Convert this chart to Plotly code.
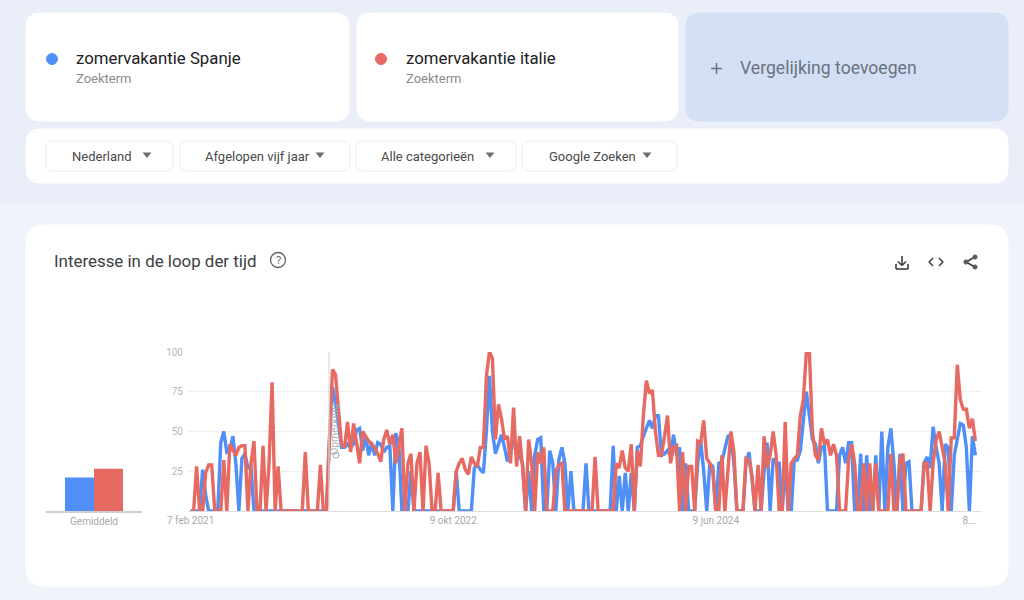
import pandas as pd
import plotly.graph_objects as go

W, H = 1024, 600

terms = ["zomervakantie Spanje", "zomervakantie italie"]
subtitle = "Zoekterm"
filters = ["Nederland", "Afgelopen vijf jaar", "Alle categorieën", "Google Zoeken"]
add_label = "Vergelijking toevoegen"
card_title = "Interesse in de loop der tijd"
avg_label = "Gemiddeld"
avg_spanje = [21]
avg_italie = [26.5]
tick_dates = ["2021-02-07", "2022-10-09", "2024-06-09", "2026-01-18"]
tick_labels = ["7 feb 2021", "9 okt 2022", "9 jun 2024", "8..."]
y_ticks = [25, 50, 75, 100]

spanje = [
    0,0,0,0,26,10,0,0,0,0,
    43,50,37,38,47,30,0,33,36,27,
    28,0,0,0,0,0,0,0,0,0,
    0,0,0,0,0,0,0,0,0,0,
    0,0,0,0,0,0,45,78,68,52,
    40,40,42,40,42,51,52,38,47,35,
    43,35,43,42,37,40,41,0,49,41,
    0,0,0,25,0,0,0,0,0,0,
    0,0,0,0,0,0,0,0,25,0,
    0,0,0,0,27,29,26,24,50,85,
    50,36,42,48,40,31,40,45,35,35,
    30,0,25,0,35,45,46,0,0,38,
    30,0,32,40,30,0,25,0,0,0,
    0,30,0,0,0,0,0,0,0,0,
    41,0,22,0,24,0,24,0,40,41,
    47,52,57,52,60,60,35,36,38,35,
    48,35,40,0,30,0,0,0,30,44,
    25,0,30,28,0,30,31,40,47,48,
    30,0,0,0,30,37,20,0,0,0,
    25,43,0,33,30,30,0,30,0,0,
    32,32,38,55,75,60,45,42,30,40,
    41,0,0,0,0,35,40,30,43,43,
    0,0,36,0,35,0,0,35,0,50,
    0,40,52,30,0,36,0,30,31,0,
    0,0,0,30,34,27,53,40,30,0,
    42,40,0,35,45,55,54,40,0,47,
    35,
]
italie = [
    0,0,28,0,0,24,29,29,0,0,
    0,32,0,42,38,35,40,41,41,0,
    30,44,0,0,41,0,30,81,0,28,
    0,0,0,0,0,0,0,0,37,0,
    0,0,0,29,0,0,44,89,86,65,
    42,40,56,37,55,43,30,50,47,44,
    42,40,36,31,45,51,42,48,30,42,
    52,0,30,36,0,30,37,0,41,30,
    0,0,24,0,0,0,0,0,25,30,
    33,26,23,34,30,28,40,40,85,100,
    96,45,67,58,45,47,30,65,28,47,
    27,0,45,30,0,37,30,40,0,0,
    0,25,29,30,0,0,0,0,0,0,
    0,0,0,0,34,0,0,0,0,0,
    0,30,27,38,27,25,42,0,38,28,
    60,82,74,76,50,35,35,47,60,30,
    40,41,0,37,0,28,28,0,44,43,
    57,33,30,25,0,0,35,0,25,50,
    37,0,0,0,33,32,22,0,29,0,
    47,27,35,50,35,0,0,56,0,30,
    33,35,60,70,100,100,50,35,32,52,
    42,45,35,42,35,0,0,0,32,42,
    30,0,0,30,0,30,0,30,0,0,
    0,0,36,0,0,32,36,0,0,0,
    0,0,0,30,30,0,30,45,50,40,
    30,0,46,46,92,70,64,64,52,58,
    44,
]
dates = pd.date_range("2021-02-07", periods=len(spanje), freq="7D")

BLUE = "#4f8ff7"
RED = "#e66a62"
BG_TOP = "#e9eef8"
BG_LOW = "#f0f3f9"
ADD_BG = "#d3dff5"
FONT = "Roboto"


def px(x):
    return x / W


def py(y):
    return 1 - y / H


def rrect(x0, y0, x1, y1, r, fill, line=None):
    X0, X1, Y0, Y1 = px(x0), px(x1), py(y0), py(y1)
    rx, ry = r / W, r / H
    path = (
        f"M {X0+rx} {Y0} L {X1-rx} {Y0} Q {X1} {Y0} {X1} {Y0-ry} "
        f"L {X1} {Y1+ry} Q {X1} {Y1} {X1-rx} {Y1} L {X0+rx} {Y1} "
        f"Q {X0} {Y1} {X0} {Y1+ry} L {X0} {Y0-ry} Q {X0} {Y0} {X0+rx} {Y0} Z"
    )
    return dict(type="path", xref="paper", yref="paper", path=path, fillcolor=fill,
                line=dict(color=line or fill, width=1), layer="below")


def seg(x0, y0, x1, y1, color="#3c4043", width=1.6):
    return dict(type="line", xref="paper", yref="paper", x0=px(x0), y0=py(y0), x1=px(x1), y1=py(y1),
                line=dict(color=color, width=width), layer="above")


def circ(cx, cy, r, fill, line=None, width=1.0, layer="above"):
    return dict(type="circle", xref="paper", yref="paper", x0=px(cx - r), x1=px(cx + r),
                y0=py(cy + r), y1=py(cy - r), fillcolor=fill,
                line=dict(color=line or fill, width=width), layer=layer)


def tri(cx, cy, color="#6f6f6f"):
    path = (f"M {px(cx-4.5)} {py(cy-2.5)} L {px(cx+4.5)} {py(cy-2.5)} L {px(cx)} {py(cy+3)} Z")
    return dict(type="path", xref="paper", yref="paper", path=path, fillcolor=color,
                line=dict(color=color, width=0), layer="above")


def text(x, y, s, size, color, anchor="left", angle=0):
    return dict(xref="paper", yref="paper", x=px(x), y=py(y), text=s, showarrow=False,
                xanchor=anchor, yanchor="middle", align=anchor, textangle=angle,
                font=dict(family=FONT, size=size, color=color))


shapes = [
    dict(type="rect", xref="paper", yref="paper", x0=0, x1=1, y0=py(204), y1=1,
         fillcolor=BG_TOP, line=dict(width=0), layer="below"),
    rrect(26, 13, 349, 121, 14, "#ffffff"),
    rrect(357, 13, 678, 121, 14, "#ffffff"),
    rrect(686, 13, 1008, 121, 14, ADD_BG),
    rrect(26, 129, 1008, 183, 14, "#ffffff"),
    rrect(46, 141, 173, 171, 7, "#ffffff", "#ececf0"),
    rrect(180, 141, 350, 171, 7, "#ffffff", "#ececf0"),
    rrect(356, 141, 516, 171, 7, "#ffffff", "#ececf0"),
    rrect(522, 141, 677, 171, 7, "#ffffff", "#ececf0"),
    rrect(26, 225, 1008, 586, 18, "#ffffff"),
    circ(52, 59, 5.5, BLUE),
    circ(381, 59, 5.5, RED),
    tri(147, 155), tri(320, 155), tri(490, 155), tri(647, 155),
    seg(711, 68.5, 722, 68.5, "#6b7280", 1.5), seg(716.5, 63, 716.5, 74, "#6b7280", 1.5),
    circ(278, 260, 7.5, "rgba(0,0,0,0)", "#5f6368", 1.3),
    # download icon
    seg(902, 256, 902, 265), seg(898, 261.5, 902, 265.5), seg(906, 261.5, 902, 265.5),
    seg(896, 264, 896, 269), seg(896, 269, 908, 269), seg(908, 269, 908, 264),
    # embed icon
    seg(933, 258, 929, 262), seg(929, 262, 933, 266), seg(939, 258, 943, 262), seg(943, 262, 939, 266),
    # share icon
    seg(966, 262, 975, 257), seg(966, 262, 975, 267),
    circ(966, 262, 2.1, "#55595e"), circ(975, 257, 2.1, "#55595e"), circ(975, 267, 2.1, "#55595e"),
    # note marker
    seg(329, 352, 329, 511, "#dadada", 1.2),
    circ(336, 455, 3, "#ffffff", "#a8a8a8", 1),
]

annotations = [
    text(74, 58, terms[0], 16.8, "#202124"),
    text(74, 78.5, subtitle, 13, "#8a8d91"),
    text(404, 58, terms[1], 16.8, "#202124"),
    text(404, 78.5, subtitle, 13, "#8a8d91"),
    text(738, 68.5, add_label, 17.6, "#6b7280"),
    text(102, 156, filters[0], 13, "#4a4a4a", "center"),
    text(257, 156, filters[1], 13, "#4a4a4a", "center"),
    text(427, 156, filters[2], 13, "#4a4a4a", "center"),
    text(592, 156, filters[3], 13, "#4a4a4a", "center"),
    text(52, 261, card_title, 16.9, "#3c4043"),
    text(278, 260.5, "?", 11, "#5f6368", "center"),
    text(334, 430, "Opmerking", 10.5, "#b0b0b0", "center", -90),
]

fig = go.Figure()
fig.add_trace(go.Scatter(x=dates, y=spanje, mode="lines", name=terms[0], cliponaxis=False,
                         line=dict(color=BLUE, width=3.4, shape="linear"), showlegend=False))
fig.add_trace(go.Scatter(x=dates, y=italie, mode="lines", name=terms[1], cliponaxis=False,
                         line=dict(color=RED, width=3.4, shape="linear"), showlegend=False))
fig.add_trace(go.Bar(x=[avg_label], y=avg_spanje, marker=dict(color=BLUE, line=dict(width=0)),
                     xaxis="x2", yaxis="y2", showlegend=False))
fig.add_trace(go.Bar(x=[avg_label], y=avg_italie, marker=dict(color=RED, line=dict(width=0)),
                     xaxis="x2", yaxis="y2", showlegend=False))

fig.update_layout(
    width=W, height=H, autosize=False,
    margin=dict(l=0, r=0, t=0, b=0, autoexpand=False),
    paper_bgcolor=BG_LOW, plot_bgcolor="rgba(0,0,0,0)",
    barmode="group", bargap=0.396, bargroupgap=0,
    shapes=shapes, annotations=annotations,
    font=dict(family=FONT),
    xaxis=dict(domain=[px(188), px(981)], type="date", range=["2021-02-01", "2026-02-14"],
               tickmode="array", tickvals=tick_dates, ticktext=tick_labels, showgrid=False,
               showline=True, linecolor="#dcdcdc", linewidth=1, zeroline=False, ticks="",
               tickfont=dict(family=FONT, size=10, color="#a9a9a9"), anchor="y"),
    yaxis=dict(domain=[py(511), py(352)], range=[0, 100], tickmode="array", tickvals=y_ticks,
               gridcolor="#eeeeee", gridwidth=1, zeroline=False, showline=False, ticks="",
               ticklabelstandoff=4,
               tickfont=dict(family=FONT, size=10, color="#b5b5b5"), anchor="x"),
    xaxis2=dict(domain=[px(46), px(142)], type="category", anchor="y2",
                showgrid=False, showline=True, linecolor="#cfcfcf", linewidth=1.5, ticks="",
                tickfont=dict(family=FONT, size=10, color="#a9a9a9")),
    yaxis2=dict(domain=[py(511), py(352)], range=[0, 100], anchor="x2", visible=False, showgrid=False),
)

fig.write_html("out.html", config=dict(displayModeBar=False),
               post_script="document.body.style.margin='0';document.body.style.overflow='hidden';")
